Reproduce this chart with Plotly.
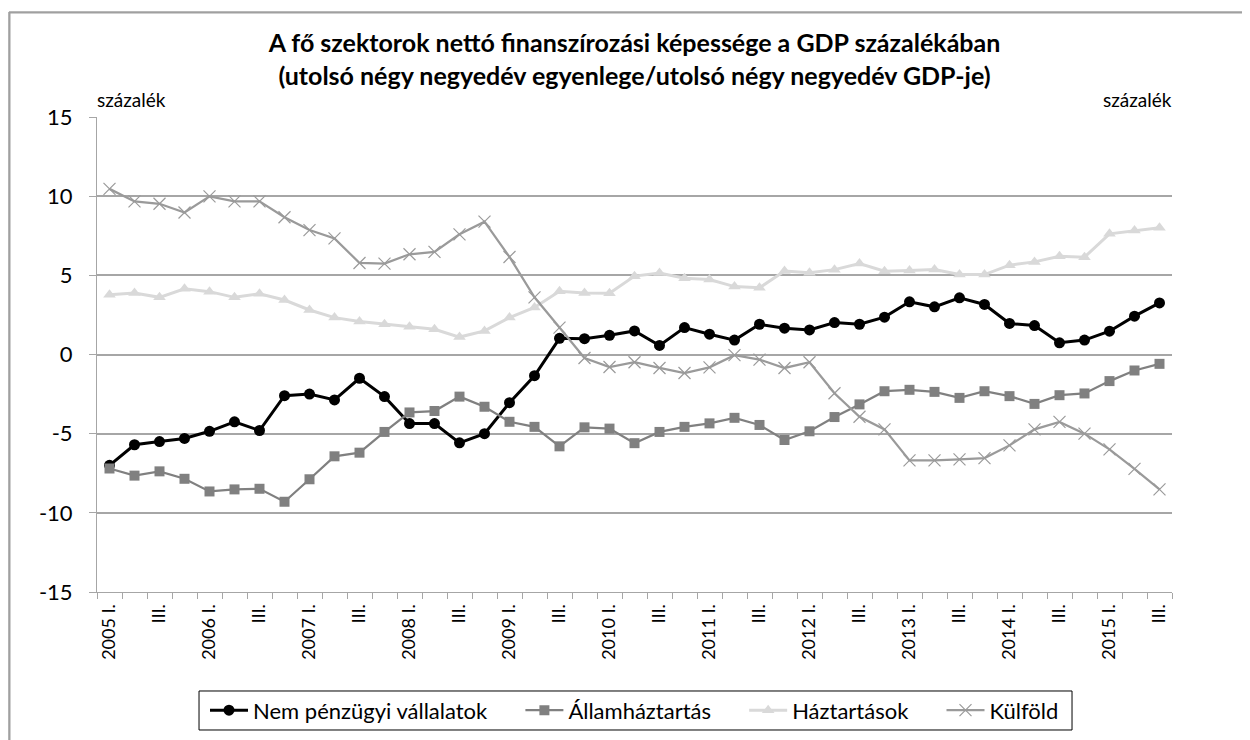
import plotly.graph_objects as go

# quarters 2005 I. - 2015 III.
quarters = [
    "2005 I.", "II.", "III.", "IV.", "2006 I.", "II.", "III.", "IV.",
    "2007 I.", "II.", "III.", "IV.", "2008 I.", "II.", "III.", "IV.",
    "2009 I.", "II.", "III.", "IV.", "2010 I.", "II.", "III.", "IV.",
    "2011 I.", "II.", "III.", "IV.", "2012 I.", "II.", "III.", "IV.",
    "2013 I.", "II.", "III.", "IV.", "2014 I.", "II.", "III.", "IV.",
    "2015 I.", "II.", "III.",
]

vallalatok = [
    -7.0, -5.7, -5.5, -5.3, -4.85, -4.25, -4.8, -2.6, -2.5, -2.87, -1.5,
    -2.66, -4.36, -4.36, -5.58, -5.0, -3.04, -1.34, 1.02, 1.0, 1.21, 1.49,
    0.57, 1.70, 1.28, 0.91, 1.91, 1.66, 1.55, 2.02, 1.91, 2.36, 3.33, 3.01,
    3.58, 3.16, 1.96, 1.83, 0.74, 0.91, 1.47, 2.42, 3.26,
]
allamhaztartas = [
    -7.2, -7.65, -7.38, -7.85, -8.65, -8.52, -8.48, -9.3, -7.88, -6.43, -6.2,
    -4.89, -3.66, -3.57, -2.66, -3.3, -4.25, -4.57, -5.8, -4.6, -4.68, -5.6,
    -4.89, -4.57, -4.35, -4.0, -4.45, -5.4, -4.85, -3.95, -3.15, -2.32, -2.23,
    -2.36, -2.74, -2.32, -2.63, -3.12, -2.57, -2.46, -1.68, -1.01, -0.59,
]
haztartasok = [
    3.78, 3.89, 3.61, 4.15, 3.97, 3.61, 3.83, 3.44, 2.81, 2.33, 2.08, 1.91,
    1.76, 1.59, 1.10, 1.49, 2.33, 2.97, 3.99, 3.89, 3.87, 4.95, 5.14, 4.82,
    4.74, 4.29, 4.21, 5.27, 5.16, 5.36, 5.74, 5.26, 5.31, 5.37, 5.05, 5.05,
    5.64, 5.85, 6.21, 6.15, 7.62, 7.83, 8.0,
]
kulfold = [
    10.46, 9.67, 9.52, 8.97, 9.99, 9.67, 9.67, 8.67, 7.86, 7.33, 5.78, 5.74,
    6.33, 6.48, 7.59, 8.39, 6.16, 3.61, 1.70, -0.22, -0.79, -0.49, -0.85,
    -1.17, -0.81, -0.04, -0.32, -0.85, -0.49, -2.45, -3.93, -4.73, -6.69,
    -6.69, -6.62, -6.54, -5.74, -4.73, -4.26, -5.0, -5.99, -7.22, -8.52,
]

y_ticks = [-15, -10, -5, 0, 5, 10, 15]
y_ticktext = ["-15", "-10", "-5", "0", "5", "10", "15"]

FONT = "Lato"
GRID = "#a6a6a6"
FRAME = "#a0a0a0"
x = list(range(len(quarters)))
PAD = "\u00a0" * 5  # extra gap between legend entries

fig = go.Figure()

fig.add_trace(go.Scatter(
    x=x, y=vallalatok, name="Nem pénzügyi vállalatok" + PAD, mode="lines+markers",
    line=dict(color="#000000", width=3),
    marker=dict(symbol="circle", size=11, color="#000000"),
))
fig.add_trace(go.Scatter(
    x=x, y=allamhaztartas, name="Államháztartás" + PAD, mode="lines+markers",
    line=dict(color="#808080", width=2.25),
    marker=dict(symbol="square", size=10, color="#808080"),
))
fig.add_trace(go.Scatter(
    x=x, y=haztartasok, name="Háztartások" + PAD, mode="lines+markers",
    line=dict(color="#d9d9d9", width=3),
    marker=dict(symbol="triangle-up", size=11, color="#d9d9d9"),
))
fig.add_trace(go.Scatter(
    x=x, y=kulfold, name="Külföld", mode="lines+markers",
    line=dict(color="#9a9a9a", width=2.25),
    marker=dict(symbol="x-thin", size=12, line=dict(color="#9a9a9a", width=1.2)),
))

# page body has an 8px margin, so the figure is shifted; compensate here
fig.update_layout(
    width=1250, height=740,
    paper_bgcolor="white", plot_bgcolor="white",
    margin=dict(l=89, r=86, t=109, b=156),
    font=dict(family=FONT, color="#000000"),
    title=dict(
        text="A fő szektorok nettó finanszírozási képessége a GDP százalékában<br>"
             "(utolsó négy negyedév egyenlege/utolsó négy negyedév GDP-je)",
        x=0.5, xref="paper", y=0.94, yanchor="middle",
        font=dict(family=FONT, size=25, color="#000000", weight="bold"),
    ),
    showlegend=True,
    legend=dict(
        orientation="h", x=0.5, xanchor="center", y=-0.205, yanchor="top",
        borderwidth=0, itemwidth=38, bgcolor="rgba(0,0,0,0)",
        font=dict(family=FONT, size=22),
        traceorder="normal",
    ),
    xaxis=dict(
        range=[-0.5, len(quarters) - 0.5],
        tickmode="array", tickvals=x[::2], ticktext=quarters[::2],
        tickangle=-90, tickfont=dict(size=18), ticks="",
        ticklabelstandoff=4,
        showgrid=False, zeroline=False,
        showline=True, linecolor=GRID, linewidth=1,
        minor=dict(tick0=-0.5, dtick=1, ticks="outside", ticklen=6,
                   tickcolor=GRID, showgrid=False),
    ),
    yaxis=dict(
        range=[-15, 15], tickmode="array", tickvals=y_ticks, ticktext=y_ticktext,
        tickfont=dict(size=22), ticklabelstandoff=12,
        ticks="outside", ticklen=7, tickcolor=GRID,
        showgrid=True, gridcolor=GRID, gridwidth=1.5, zeroline=False,
        showline=True, linecolor=GRID, linewidth=1,
    ),
    yaxis2=dict(
        range=[-15, 15], tickmode="array", tickvals=y_ticks, ticktext=y_ticktext,
        tickfont=dict(size=22), ticklabelstandoff=12,
        overlaying="y", side="right",
        ticks="outside", ticklen=7, tickcolor=GRID,
        showgrid=False, zeroline=False,
        showline=True, linecolor=GRID, linewidth=1,
    ),
    annotations=[
        dict(text="százalék", xref="paper", yref="paper", x=-0.002, y=1.0,
             xanchor="left", yanchor="bottom", yshift=4, showarrow=False,
             font=dict(family=FONT, size=19)),
        dict(text="százalék", xref="paper", yref="paper", x=1.002, y=1.0,
             xanchor="right", yanchor="bottom", yshift=4, showarrow=False,
             font=dict(family=FONT, size=19)),
        # outer chart frame drawn as an empty bordered box
        dict(text="", xref="paper", yref="paper", x=-0.0819, y=1.221,
             xanchor="left", yanchor="top", showarrow=False,
             width=1300, height=800, borderpad=0,
             bordercolor=FRAME, borderwidth=1.5),
    ],
    shapes=[
        dict(type="line", xref="paper", yref="paper",
             x0=-0.0819, x1=1.2, y0=1.221, y1=1.221, layer="below",
             line=dict(color=FRAME, width=1.5)),
        dict(type="line", xref="paper", yref="paper",
             x0=-0.0819, x1=-0.0819, y0=-0.4, y1=1.221, layer="below",
             line=dict(color=FRAME, width=1.5)),
        # legend box
        dict(type="rect", xref="paper", yref="paper",
             x0=0.0949, x1=0.907, y0=-0.2905, y1=-0.2084,
             line=dict(color="#000000", width=1)),
    ],
)

fig.write_html("out.html")
